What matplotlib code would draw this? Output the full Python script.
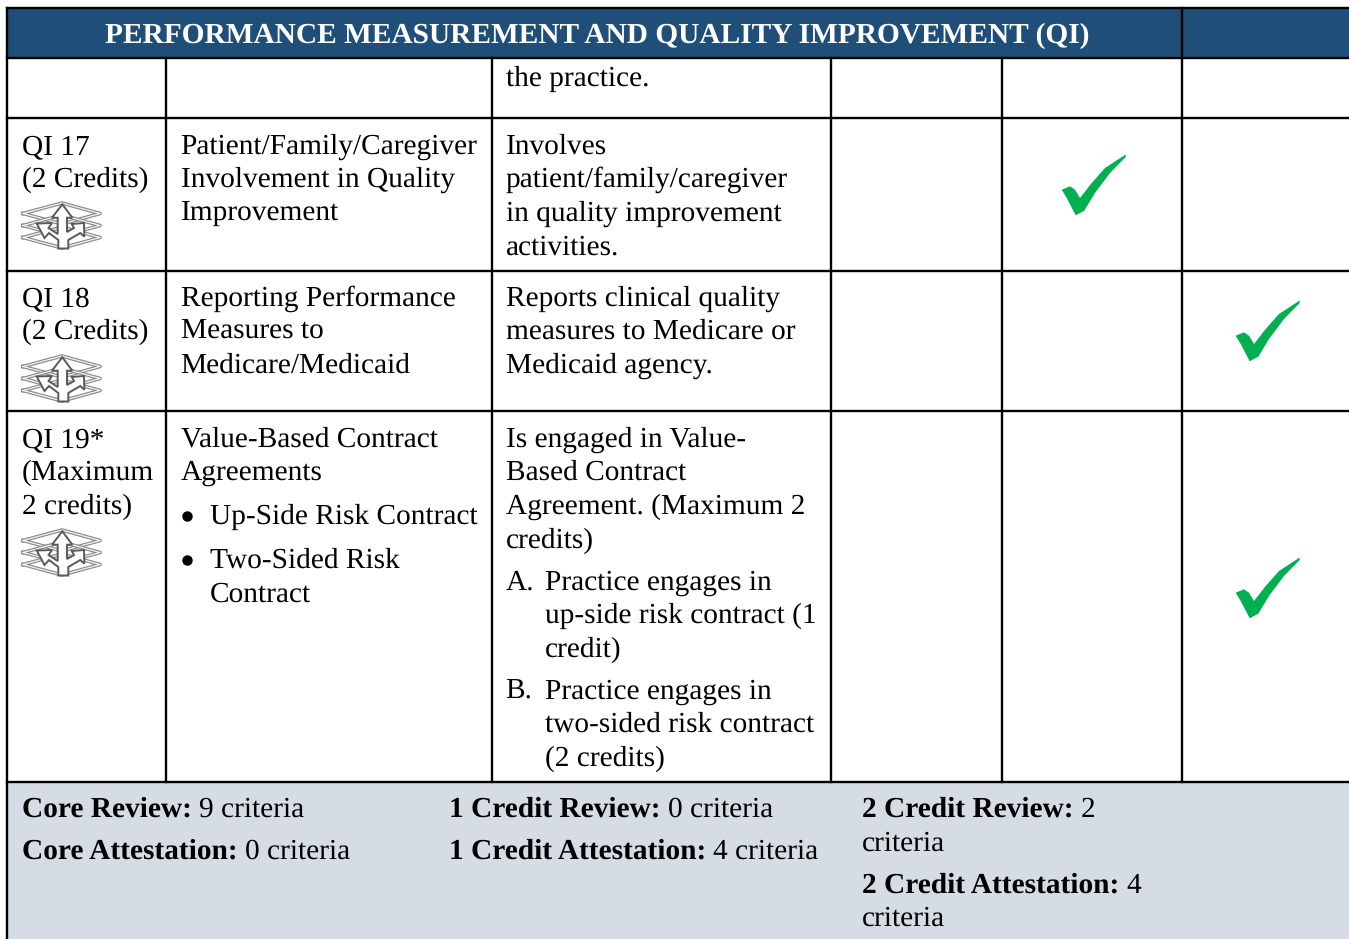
import matplotlib
matplotlib.use("Agg")
import matplotlib.pyplot as plt
from matplotlib.patches import Polygon, Rectangle

plt.rcParams['font.family'] = ['Liberation Serif', 'DejaVu Serif']
plt.rcParams['text.hinting'] = 'no_hinting'

# table content
header_title = "PERFORMANCE MEASUREMENT AND QUALITY IMPROVEMENT (QI)"
carry_over = "the practice."

ids = [["QI 17", "(2 Credits)"], ["QI 18", "(2 Credits)"], ["QI 19*", "(Maximum", "2 credits)"]]
names = [["Patient/Family/Caregiver", "Involvement in Quality", "Improvement"],
         ["Reporting Performance", "Measures to", "Medicare/Medicaid"],
         ["Value-Based Contract", "Agreements"]]
bullets = [["Up-Side Risk Contract"], ["Two-Sided Risk", "Contract"]]
descriptions = [["Involves", "patient/family/caregiver", "in quality improvement", "activities."],
                ["Reports clinical quality", "measures to Medicare or", "Medicaid agency."],
                ["Is engaged in Value-", "Based Contract", "Agreement. (Maximum 2", "credits)"]]
options = [("A.", ["Practice engages in", "up-side risk contract (1", "credit)"]),
           ("B.", ["Practice engages in", "two-sided risk contract", "(2 credits)"])]
summary = [("Core Review:", "9 criteria"), ("Core Attestation:", "0 criteria"),
           ("1 Credit Review:", "0 criteria"), ("1 Credit Attestation:", "4 criteria")]
summary_wrap = [("2 Credit Review:", "2", "criteria"), ("2 Credit Attestation:", "4", "criteria")]

NAVY = "#1F4E79"
FOOT = "#D5DCE4"
GREEN = "#00AF50"
FS = 21.15

fig = plt.figure(figsize=(13.49, 9.39), dpi=100)
ax = fig.add_axes([0, 0, 1, 1])
ax.set_xlim(0, 1349)
ax.set_ylim(939, 0)
ax.axis('off')


def put(x, y, s, **kw):
    return ax.text(x - 0.4, y, s, fontsize=kw.pop('fontsize', FS), va='baseline', ha='left',
                   color=kw.pop('color', 'black'), **kw)


def put_lines(x, ys, lines):
    for y, line in zip(ys, lines):
        put(x, y, line)


def bold_then_plain(x, y, bold, plain):
    t = put(x, y, bold, fontweight='bold', fontsize=21.2)
    box = t.get_window_extent(fig.canvas.get_renderer())
    x2 = ax.transData.inverted().transform((box.x1, box.y0))[0]
    put(x2 + 8, y, plain)


def check(dx, dy):
    pts = [(1125.7, 154.5), (1105, 168), (1091.7, 183), (1080, 198), (1075, 189.7), (1070, 186.3),
           (1061.7, 189.7), (1066.7, 198), (1071, 206.3), (1075.7, 215.3), (1084.3, 210.7),
           (1095, 193), (1110, 173), (1125.7, 157)]
    ax.add_patch(Polygon([(x + dx, y + dy) for x, y in pts], closed=True, fc=GREEN, ec='none', zorder=3))


def layers_icon(x, y):
    # three stacked diamonds with a three-way arrow on top
    for dy in (0, 12, 24):
        xs = [x + 2, x + 41, x + 79, x + 41, x + 2]
        ys = [y + 10.5 + dy, y + dy, y + 10.5 + dy, y + 21 + dy, y + 10.5 + dy]
        ax.plot(xs, ys, color="#8a8a8a", lw=2.6, zorder=2)
        ax.plot(xs, ys, color="#f4f4f4", lw=0.9, zorder=2)
    arrow = [(37.3, 45.5), (37.3, 37), (28, 30), (23.5, 35), (15.7, 20.5), (31, 20), (27.5, 25), (36.7, 31),
             (36.7, 14.7), (31, 14.7), (41.3, 1.3), (51.3, 14.7), (46, 14.7), (46, 29), (53, 25), (50.7, 21),
             (63, 20), (63.3, 33.7), (59.3, 30), (47.3, 37), (47.3, 45.5)]
    ax.add_patch(Polygon([(x + a, y + b) for a, b in arrow], closed=True, fc='white', ec="#5a5a5a",
                         lw=1.4, zorder=3))


# backgrounds
ax.add_patch(Rectangle((7, 8), 1342, 50, fc=NAVY, ec='none', zorder=0))
ax.add_patch(Rectangle((7, 782), 1342, 157, fc=FOOT, ec='none', zorder=0))

# grid lines
LW = 1.7
for y in [8, 58, 118, 271, 411, 782]:
    ax.plot([7, 1349], [y, y], color='black', lw=LW, zorder=1, solid_capstyle='projecting')
ax.plot([7, 7], [8, 939], color='black', lw=LW, zorder=1)
ax.plot([1182, 1182], [8, 782], color='black', lw=LW, zorder=1)
for x in [166, 492, 831, 1002]:
    ax.plot([x, x], [58, 782], color='black', lw=LW, zorder=1)

# header
put(105, 43, header_title, color='white', fontweight='bold', fontsize=21.17)
put(506, 86, carry_over)

# rows
put_lines(22, [154, 187], ids[0])
put_lines(22, [306, 339], ids[1])
put_lines(22, [447, 480, 514], ids[2])
layers_icon(21, 203)
layers_icon(21, 356)
layers_icon(21, 530)

put_lines(181, [154, 187, 221], names[0])
put_lines(181, [306, 339, 373], names[1])
put_lines(181, [447, 480], names[2])
for yy, lines in zip(([524], [568, 602]), bullets):
    ax.plot([187], [yy[0] - 8], marker='o', ms=6.5, color='black', zorder=3)
    put_lines(210, yy, lines)

put_lines(506, [154, 187, 221, 255], descriptions[0])
put_lines(506, [306, 339, 373], descriptions[1])
put_lines(506, [447, 480, 514, 548], descriptions[2])
for ys, (letter, lines) in zip(([590, 623, 657], [699, 732, 766]), options):
    put(506, ys[0], letter)
    put_lines(545, ys, lines)

# check marks
check(0, 0)
check(174, 146)
check(174, 403)

# summary block
for (x, y), (b, p) in zip([(22, 817), (22, 859), (449, 817), (449, 859)], summary):
    bold_then_plain(x, y, b, p)
for (y1, y2), (b, p, rest) in zip([(817, 851), (893, 926)], summary_wrap):
    bold_then_plain(862, y1, b, p)
    put(862, y2, rest)

fig.savefig("out.png", dpi=100)
